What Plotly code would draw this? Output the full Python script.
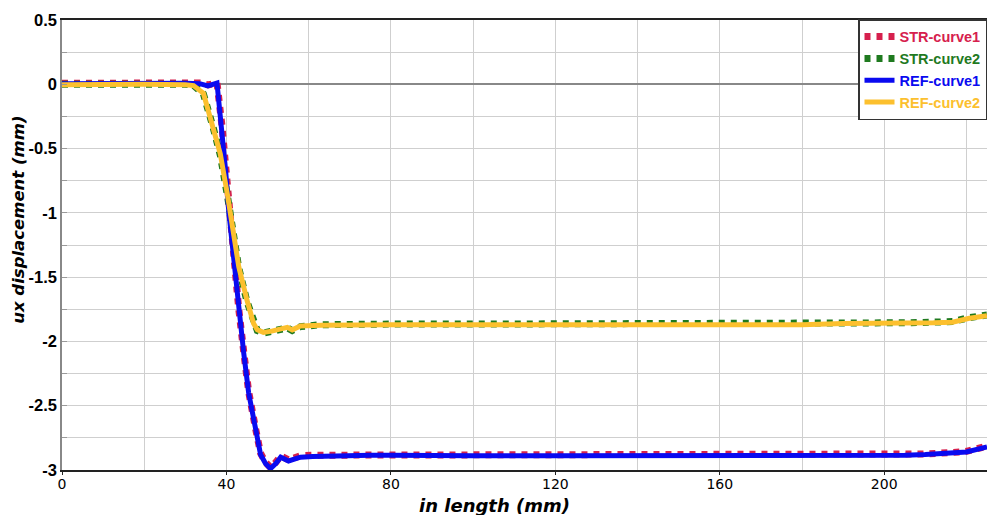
import plotly.graph_objects as go

# ---- data ----
ref1_x = [0, 10, 20, 30, 33.5, 35.5, 37.7, 38.9, 39.8, 40.6, 41.8, 43.0, 44.2, 45.4, 47.1, 48.3,
          49.5, 50.7, 52, 53.2, 55.1, 58, 61, 65, 70, 75, 80, 90, 100, 120, 140, 160, 180, 195,
          200, 205, 210, 216, 220, 225]
ref1_y = [0.005, 0.008, 0.01, 0.008, 0.005, -0.012, 0.01, -0.33, -0.67, -1.0, -1.37, -1.76, -2.09,
          -2.40, -2.69, -2.88, -2.95, -2.99, -2.95, -2.90, -2.93, -2.90, -2.895, -2.89, -2.89,
          -2.885, -2.885, -2.89, -2.89, -2.89, -2.89, -2.89, -2.89, -2.89, -2.89, -2.885, -2.88,
          -2.87, -2.86, -2.82]

str1_x = [0, 10, 20, 30, 33.5, 35.5, 37.7, 38.9, 39.8, 40.6, 41.8, 43.0, 44.2, 45.4, 47.1, 48.3,
          49.5, 50.7, 52, 53.2, 55.1, 58, 61, 65, 70, 75, 80, 90, 100, 120, 140, 160, 180, 195,
          200, 205, 210, 216, 220, 225]
str1_y = [0.008, 0.01, 0.012, 0.01, 0.01, -0.005, 0.012, -0.32, -0.66, -0.99, -1.36, -1.75, -2.08,
          -2.39, -2.68, -2.87, -2.94, -2.98, -2.94, -2.89, -2.92, -2.89, -2.885, -2.885, -2.885,
          -2.88, -2.88, -2.885, -2.885, -2.885, -2.885, -2.885, -2.885, -2.885, -2.885, -2.88,
          -2.875, -2.865, -2.855, -2.815]

ref2_x = [0, 10, 20, 30, 32, 34.4, 36.8, 38.5, 40.2, 41, 43, 45, 46.6, 47.5, 49, 51, 54.8, 56, 58,
          63, 70, 80, 100, 120, 140, 160, 180, 190, 200, 206, 212, 216.6, 220.7, 225]
ref2_y = [-0.004, 0.0, 0.0, -0.004, -0.01, -0.07, -0.33, -0.54, -0.85, -1.03, -1.42, -1.68,
          -1.86, -1.91, -1.93, -1.92, -1.89, -1.91, -1.88, -1.875, -1.87, -1.87, -1.87, -1.87,
          -1.87, -1.87, -1.87, -1.86, -1.86, -1.86, -1.855, -1.85, -1.82, -1.80]

str2_x = [0, 10, 20, 30, 32, 34.4, 36.8, 38.5, 40.2, 41, 43, 45, 46.6, 47.5, 49, 51, 54.8, 56, 58,
          63, 70, 80, 100, 120, 140, 160, 180, 190, 200, 206, 212, 216.6, 220.7, 225]
str2_y = [0.0, 0.004, 0.004, 0.0, -0.008, -0.075, -0.34, -0.55, -0.86, -1.04, -1.43, -1.69,
          -1.865, -1.915, -1.935, -1.925, -1.895, -1.915, -1.885, -1.87, -1.865, -1.865, -1.865,
          -1.865, -1.865, -1.865, -1.865, -1.855, -1.855, -1.855, -1.85, -1.845, -1.815, -1.795]

series_names = ["STR-curve1", "STR-curve2", "REF-curve1", "REF-curve2"]
series_colors = ["#d6204d", "#1f7a1f", "#0a0af0", "#fcc02e"]

x_ticks = [0, 40, 80, 120, 160, 200]
y_ticks = [0.5, 0, -0.5, -1, -1.5, -2, -2.5, -3]
y_tick_labels = ["0.5", "0", "-0.5", "-1", "-1.5", "-2", "-2.5", "-3"]
x_title = "in length (mm)"
y_title = "ux displacement (mm)"

fig = go.Figure()

series_xy = [(str1_x, str1_y), (str2_x, str2_y), (ref1_x, ref1_y), (ref2_x, ref2_y)]
for (xs, ys), name, col in zip(series_xy, series_names, series_colors):
    is_str = name.startswith("STR")
    line = dict(color=col, width=7, dash="6px,6px") if is_str else dict(color=col, width=5)
    fig.add_trace(go.Scatter(
        x=xs, y=ys, mode="lines",
        name=f'<span style="color:{col}">{name}</span>',
        line=line))

title_font = dict(family="DejaVu Sans", weight="bold", style="italic", color="black")

fig.update_layout(
    width=987, height=515,
    margin=dict(l=62, r=0, t=20, b=45, autoexpand=False),
    paper_bgcolor="white", plot_bgcolor="white",
    showlegend=True,
    legend=dict(x=1, y=1.002, xanchor="right", yanchor="top",
                bgcolor="white", bordercolor="#333333", borderwidth=1.5,
                font=dict(family="Liberation Sans", size=14.5, weight="bold"),
                tracegroupgap=0, itemwidth=30),
    xaxis=dict(range=[0, 225], tickmode="array", tickvals=x_ticks,
               ticktext=[str(v) for v in x_ticks],
               showgrid=True, gridcolor="#cfcfcf", gridwidth=1,
               minor=dict(dtick=20, showgrid=True, gridcolor="#cfcfcf", gridwidth=1),
               showline=True, linecolor="#222222", linewidth=2, mirror=True,
               ticks="outside", ticklen=3, tickcolor="#222222",
               ticklabelstandoff=-3,
               zeroline=False,
               tickfont=dict(family="DejaVu Sans", size=14, color="black")),
    yaxis=dict(range=[-3, 0.5], tickmode="array", tickvals=y_ticks, ticktext=y_tick_labels,
               showgrid=True, gridcolor="#cfcfcf", gridwidth=1,
               minor=dict(dtick=0.25, tick0=0, showgrid=True, gridcolor="#cfcfcf", gridwidth=1,
                          ticks="inside", ticklen=5, tickcolor="#999999"),
               showline=True, linecolor="#888888", linewidth=1.5,
               ticks="inside", ticklen=5, tickcolor="#999999",
               ticklabelstandoff=0,
               zeroline=True, zerolinecolor="#888888", zerolinewidth=1.5,
               tickfont=dict(family="Liberation Sans", size=16.5, weight="bold", color="black")),
    annotations=[
        dict(text=x_title, xref="paper", yref="paper", x=0.468, y=-0.078,
             xanchor="center", yanchor="middle", showarrow=False,
             font=dict(size=18, **title_font)),
        dict(text=y_title, xref="paper", yref="paper", x=-0.0465, y=0.556,
             xanchor="center", yanchor="middle", showarrow=False, textangle=-90,
             font=dict(size=16.5, **title_font)),
    ],
)

fig.write_html("out.html",
               config={"displayModeBar": False},
               post_script="document.body.style.margin='0';document.body.style.overflow='hidden';")
